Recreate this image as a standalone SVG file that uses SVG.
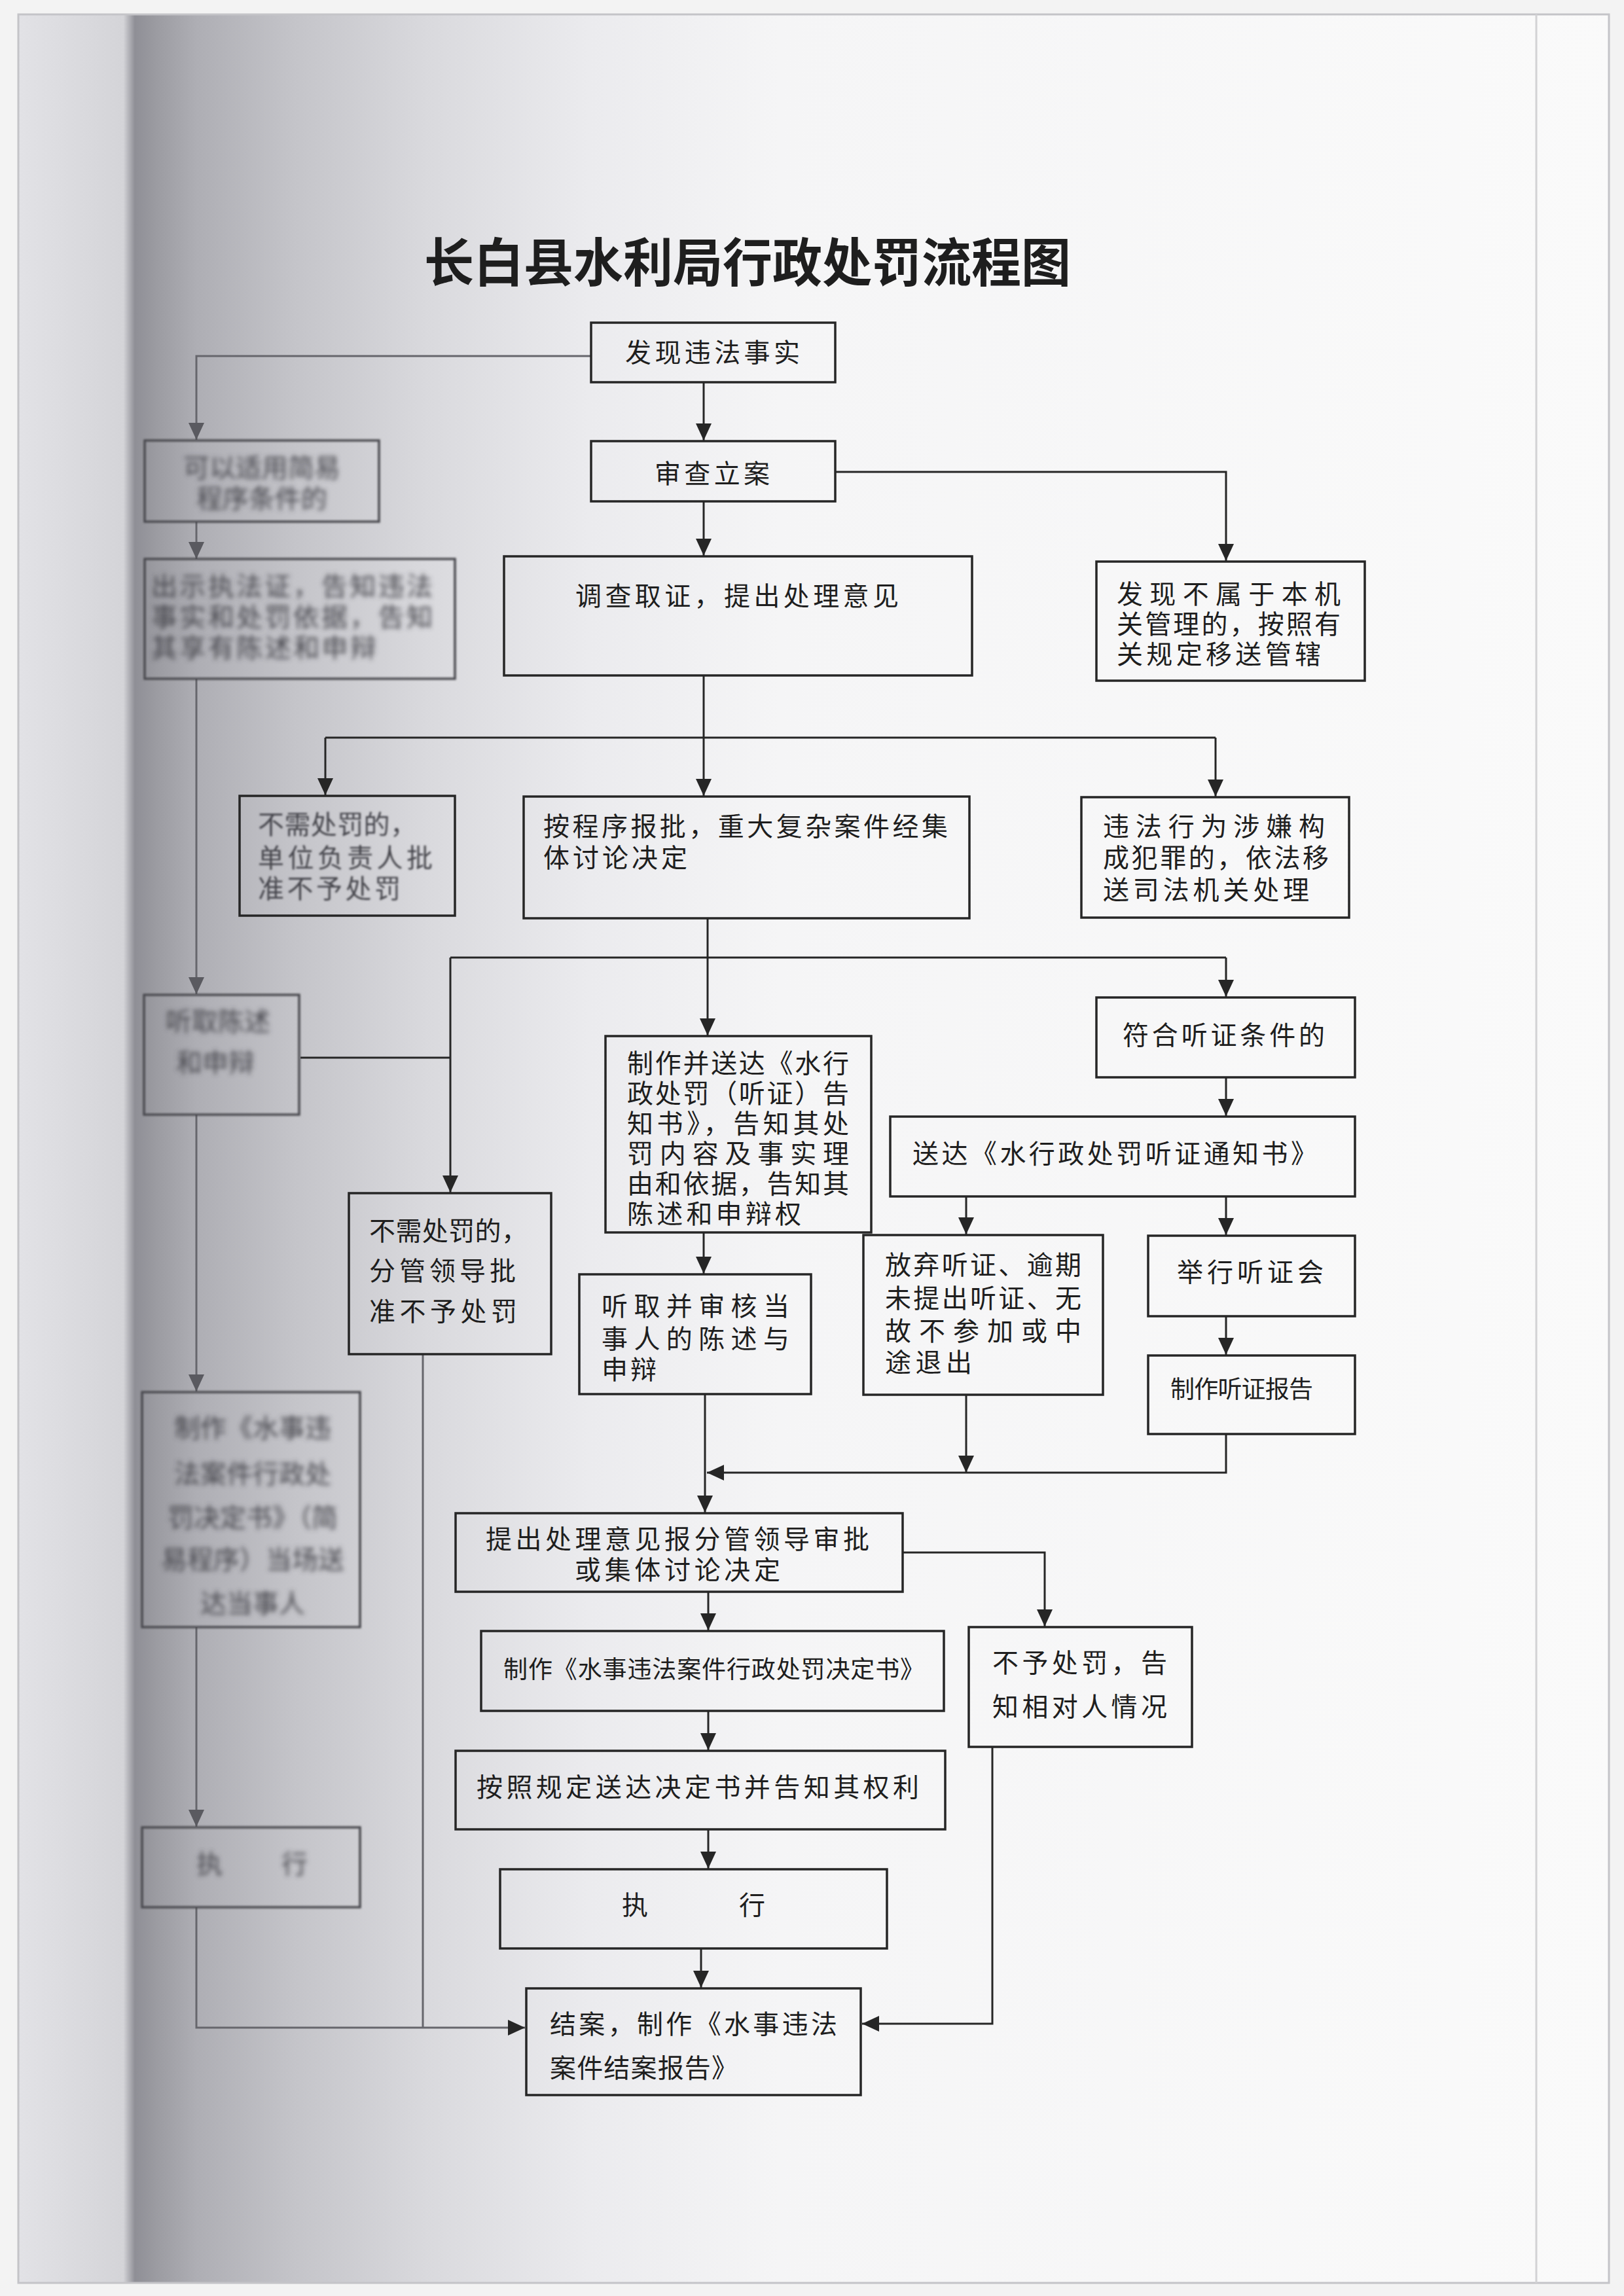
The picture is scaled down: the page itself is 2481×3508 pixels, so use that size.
<svg xmlns="http://www.w3.org/2000/svg" width="2481" height="3508" viewBox="0 0 2481 3508">
<defs>
<linearGradient id="shade" gradientUnits="userSpaceOnUse" x1="0" y1="0" x2="2481" y2="0">
<stop offset="0.011" stop-color="#e2e2e6"/>
<stop offset="0.076" stop-color="#d4d4d8"/>
<stop offset="0.083" stop-color="#8f8f96"/>
<stop offset="0.097" stop-color="#9c9ca2"/>
<stop offset="0.121" stop-color="#aeaeb4"/>
<stop offset="0.181" stop-color="#c4c4c9"/>
<stop offset="0.262" stop-color="#d9d9dd"/>
<stop offset="0.363" stop-color="#ebebee"/>
<stop offset="0.48" stop-color="#f5f5f6"/>
<stop offset="1" stop-color="#fafafa"/>
</linearGradient>
<filter id="blur" x="-10%" y="-10%" width="120%" height="120%"><feGaussianBlur stdDeviation="3.5"/></filter>
<filter id="blurs" x="-10%" y="-10%" width="120%" height="120%"><feGaussianBlur stdDeviation="1.6"/></filter>
<marker id="ah" markerUnits="userSpaceOnUse" markerWidth="26" markerHeight="24" refX="26" refY="12" orient="auto"><path d="M0,0 L26,12 L0,24 Z" fill="#262626"/></marker>
<marker id="ahg" markerUnits="userSpaceOnUse" markerWidth="26" markerHeight="24" refX="26" refY="12" orient="auto"><path d="M0,0 L26,12 L0,24 Z" fill="#5a5a60"/></marker>
<style>
.box{fill:none;stroke:#262626;stroke-width:3.5}
.gbox{fill:none;stroke:#4a4a50;stroke-width:3.5}
.ln{fill:none;stroke:#262626;stroke-width:3}
.gln{fill:none;stroke:#66666c;stroke-width:3}
.t{font-family:"Liberation Sans","Noto Sans CJK SC","Noto Sans CJK JP",sans-serif;font-size:40px;fill:#1e1e1e}
.ts{font-size:37px}
.g{fill:#45454b}
.title{font-family:"Liberation Sans","Noto Sans CJK SC","Noto Sans CJK JP",sans-serif;font-size:80px;font-weight:bold;fill:#1e1e1e}
</style>
</defs>
<rect x="0" y="0" width="2481" height="3508" fill="#f3f3f3"/>
<rect x="28" y="22" width="2430" height="3466" fill="url(#shade)" stroke="#c4c4c8" stroke-width="3"/>
<line x1="2347" y1="22" x2="2347" y2="3488" stroke="#d2d2d4" stroke-width="3"/>

<g id="title"><text class="title" x="648" y="430" textLength="988" lengthAdjust="spacingAndGlyphs">长白县水利局行政处罚流程图</text></g>

<g id="connectors">
<path class="gln" d="M903,544 H300 V672" marker-end="url(#ahg)"/>
<path class="gln" d="M300,797 V854" marker-end="url(#ahg)"/>
<path class="gln" d="M300,1037 V1519" marker-end="url(#ahg)"/>
<path class="gln" d="M300,1703 V2126" marker-end="url(#ahg)"/>
<path class="gln" d="M300,2486 V2791" marker-end="url(#ahg)"/>
<path class="gln" d="M300,2914 V3098 H802" marker-end="url(#ah)"/>
<path class="gln" d="M646,2069 V3098"/>
<path class="ln" d="M1075,584 V673" marker-end="url(#ah)"/>
<path class="ln" d="M1276,721 H1873 V857" marker-end="url(#ah)"/>
<path class="ln" d="M1075,766 V849" marker-end="url(#ah)"/>
<path class="ln" d="M1075,1032 V1127"/>
<path class="ln" d="M497,1127 H1857"/>
<path class="ln" d="M497,1127 V1215" marker-end="url(#ah)"/>
<path class="ln" d="M1075,1127 V1216" marker-end="url(#ah)"/>
<path class="ln" d="M1857,1127 V1217" marker-end="url(#ah)"/>
<path class="ln" d="M1081,1403 V1582" marker-end="url(#ah)"/>
<path class="ln" d="M688,1463 H1873"/>
<path class="ln" d="M1873,1463 V1523" marker-end="url(#ah)"/>
<path class="ln" d="M688,1463 V1822" marker-end="url(#ah)"/>
<path class="ln" d="M459,1616 H688"/>
<path class="ln" d="M1873,1646 V1705" marker-end="url(#ah)"/>
<path class="ln" d="M1476,1828 V1886" marker-end="url(#ah)"/>
<path class="ln" d="M1873,1828 V1887" marker-end="url(#ah)"/>
<path class="ln" d="M1873,2011 V2070" marker-end="url(#ah)"/>
<path class="ln" d="M1075,1883 V1946" marker-end="url(#ah)"/>
<path class="ln" d="M1476,2131 V2250" marker-end="url(#ah)"/>
<path class="ln" d="M1873,2191 V2250 H1080" marker-end="url(#ah)"/>
<path class="ln" d="M1077,2130 V2311" marker-end="url(#ah)"/>
<path class="ln" d="M1379,2372 H1596 V2485" marker-end="url(#ah)"/>
<path class="ln" d="M1082,2432 V2491" marker-end="url(#ah)"/>
<path class="ln" d="M1082,2614 V2674" marker-end="url(#ah)"/>
<path class="ln" d="M1082,2795 V2855" marker-end="url(#ah)"/>
<path class="ln" d="M1071,2977 V3037" marker-end="url(#ah)"/>
<path class="ln" d="M1516,2669 V3092 H1317" marker-end="url(#ah)"/>
</g>

<g id="n-faxian"><rect class="box" x="903" y="493" width="373" height="91"/><text class="t" x="955" y="553" textLength="267">发现违法事实</text></g>
<g id="n-shencha"><rect class="box" x="903" y="674" width="373" height="92"/><text class="t" x="1000" y="738" textLength="176">审查立案</text></g>
<g id="n-diaocha"><rect class="box" x="770" y="850" width="715" height="182"/><text class="t" x="879" y="925" textLength="494">调查取证，提出处理意见</text></g>
<g id="n-bushu"><rect class="box" x="1675" y="858" width="410" height="182"/>
<text class="t" x="1706" y="922" textLength="342">发现不属于本机</text>
<text class="t" x="1706" y="968" textLength="342">关管理的，按照有</text>
<text class="t" x="1706" y="1014" textLength="312">关规定移送管辖</text></g>

<g id="n-jianyi"><rect class="gbox" x="221" y="673" width="358" height="124" filter="url(#blurs)"/>
<g filter="url(#blur)"><text class="t g" x="400" y="729" text-anchor="middle">可以适用简易</text><text class="t g" x="400" y="776" text-anchor="middle">程序条件的</text></g></g>
<g id="n-chushi"><rect class="gbox" x="221" y="854" width="474" height="183" filter="url(#blurs)"/>
<g filter="url(#blur)"><text class="t g" x="231" y="910" textLength="430">出示执法证，告知违法</text><text class="t g" x="231" y="957" textLength="430">事实和处罚依据，告知</text><text class="t g" x="231" y="1004" textLength="344">其享有陈述和申辩</text></g></g>
<g id="n-dangchang"><rect class="gbox" x="220" y="1520" width="237" height="183" filter="url(#blurs)"/>
<g filter="url(#blur)"><text class="t g" x="333" y="1575" text-anchor="middle">听取陈述</text><text class="t g" x="329" y="1638" text-anchor="middle">和申辩</text></g></g>
<g id="n-zhizuo-jianyi"><rect class="gbox" x="217" y="2127" width="333" height="359" filter="url(#blurs)"/>
<g filter="url(#blur)"><text class="t g" x="386" y="2196" text-anchor="middle">制作《水事违</text><text class="t g" x="386" y="2266" text-anchor="middle">法案件行政处</text><text class="t g" x="386" y="2333" text-anchor="middle">罚决定书》（简</text><text class="t g" x="386" y="2397" text-anchor="middle">易程序）当场送</text><text class="t g" x="386" y="2464" text-anchor="middle">达当事人</text></g></g>
<g id="n-zhixing-jianyi"><rect class="gbox" x="217" y="2792" width="333" height="122" filter="url(#blurs)"/>
<g filter="url(#blur)"><text class="t g" x="320" y="2862" text-anchor="middle">执</text><text class="t g" x="450" y="2862" text-anchor="middle">行</text></g></g>

<g id="n-buxu1"><rect class="box" x="366" y="1216" width="329" height="183"/>
<g filter="url(#blurs)"><text class="t g" x="394" y="1274" textLength="242">不需处罚的，</text><text class="t g" x="394" y="1325" textLength="267">单位负责人批</text><text class="t g" x="394" y="1372" textLength="218">准不予处罚</text></g></g>
<g id="n-anchengxu"><rect class="box" x="800" y="1217" width="681" height="186"/>
<text class="t" x="830" y="1277" textLength="618">按程序报批，重大复杂案件经集</text><text class="t" x="830" y="1325" textLength="220">体讨论决定</text></g>
<g id="n-fanzui"><rect class="box" x="1652" y="1218" width="409" height="184"/>
<text class="t" x="1685" y="1277" textLength="339">违法行为涉嫌构</text><text class="t" x="1685" y="1325" textLength="345">成犯罪的，依法移</text><text class="t" x="1685" y="1374" textLength="315">送司法机关处理</text></g>

<g id="n-fuhe"><rect class="box" x="1675" y="1524" width="395" height="122"/><text class="t" x="1715" y="1596" textLength="309">符合听证条件的</text></g>
<g id="n-songda"><rect class="box" x="1360" y="1706" width="710" height="122"/><text class="t" x="1394" y="1777" textLength="618">送达《水行政处罚听证通知书》</text></g>
<g id="n-zhizuo"><rect class="box" x="925" y="1583" width="406" height="300"/>
<text class="t" x="958" y="1639" textLength="339">制作并送达《水行</text>
<text class="t" x="958" y="1685" textLength="339">政处罚（听证）告</text>
<text class="t" x="958" y="1731" textLength="339">知书》，告知其处</text>
<text class="t" x="958" y="1777" textLength="339">罚内容及事实理</text>
<text class="t" x="958" y="1823" textLength="339">由和依据，告知其</text>
<text class="t" x="958" y="1869" textLength="266">陈述和申辩权</text></g>
<g id="n-buxu2"><rect class="box" x="533" y="1823" width="309" height="246"/>
<text class="t" x="564" y="1895" textLength="242">不需处罚的，</text><text class="t" x="564" y="1956" textLength="224">分管领导批</text><text class="t" x="564" y="2018" textLength="226">准不予处罚</text></g>
<g id="n-tingqu"><rect class="box" x="885" y="1947" width="354" height="183"/>
<text class="t" x="919" y="2010" textLength="287">听取并审核当</text><text class="t" x="919" y="2060" textLength="287">事人的陈述与</text><text class="t" x="919" y="2107" textLength="84">申辩</text></g>
<g id="n-fangqi"><rect class="box" x="1319" y="1887" width="366" height="244"/>
<text class="t" x="1352" y="1947" textLength="300">放弃听证、逾期</text><text class="t" x="1352" y="1998" textLength="300">未提出听证、无</text><text class="t" x="1352" y="2048" textLength="300">故不参加或中</text><text class="t" x="1352" y="2096" textLength="133">途退出</text></g>
<g id="n-juxing"><rect class="box" x="1754" y="1888" width="316" height="123"/><text class="t" x="1798" y="1958" textLength="224">举行听证会</text></g>
<g id="n-baogao"><rect class="box" x="1754" y="2071" width="316" height="120"/><text class="t ts" x="1788" y="2136" textLength="218">制作听证报告</text></g>

<g id="n-tichu"><rect class="box" x="696" y="2312" width="683" height="120"/>
<text class="t" x="742" y="2366" textLength="586">提出处理意见报分管领导审批</text><text class="t" x="1035" y="2413" text-anchor="middle" textLength="314">或集体讨论决定</text></g>
<g id="n-buyu"><rect class="box" x="1480" y="2486" width="341" height="183"/>
<text class="t" x="1516" y="2555" textLength="267">不予处罚，告</text><text class="t" x="1516" y="2622" textLength="267">知相对人情况</text></g>
<g id="n-jueding"><rect class="box" x="735" y="2492" width="707" height="122"/><text class="t ts" x="769" y="2564" textLength="643">制作《水事违法案件行政处罚决定书》</text></g>
<g id="n-songda-jd"><rect class="box" x="696" y="2675" width="748" height="120"/><text class="t" x="728" y="2745" textLength="676">按照规定送达决定书并告知其权利</text></g>
<g id="n-zhixing"><rect class="box" x="764" y="2856" width="591" height="121"/><text class="t" x="970" y="2925" text-anchor="middle">执</text><text class="t" x="1149" y="2925" text-anchor="middle">行</text></g>
<g id="n-jiean"><rect class="box" x="804" y="3038" width="511" height="163"/>
<text class="t" x="840" y="3107" textLength="439">结案，制作《水事违法</text><text class="t" x="840" y="3174" textLength="287">案件结案报告》</text></g>
</svg>
